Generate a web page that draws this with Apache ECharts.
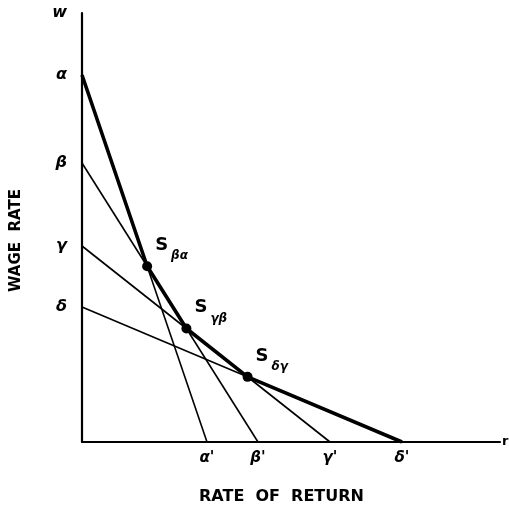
<!DOCTYPE html>
<html><head><meta charset="utf-8">
<script src="https://cdn.jsdelivr.net/npm/echarts@6/dist/echarts.min.js"></script>
<style>html,body{margin:0;padding:0;background:#fff}#c{width:509px;height:508px}</style>
</head><body><div id="c"></div>
<script>
// techniques and their intercepts (arbitrary units)
const techniques = ['α', 'β', 'γ', 'δ'];
const wageIntercepts = [367, 279, 196, 135];     // w at r = 0
const returnIntercepts = [125, 176, 248, 320];   // r at w = 0
const returnTickLabels = ["α'", "β'", "γ'", "δ'"];
const switchLabels = ['βα', 'γβ', 'δγ'];
const axisMax = { r: 418, w: 429 };

// switch points: intersection of consecutive technique lines
function intersect(i, j) {
  const a1 = wageIntercepts[i], b1 = returnIntercepts[i];
  const a2 = wageIntercepts[j], b2 = returnIntercepts[j];
  const s1 = a1 / b1, s2 = a2 / b2;
  const r = (a1 - a2) / (s1 - s2);
  return [r, a1 - s1 * r];
}
const switchPoints = [intersect(0, 1), intersect(1, 2), intersect(2, 3)];
const envelope = [[0, wageIntercepts[0]]].concat(switchPoints, [[returnIntercepts[3], 0]]);

const font = 'DejaVu Sans';
const black = { color: '#000', opacity: 1 };
const series = [];
techniques.forEach((t, i) => {
  series.push({
    type: 'line', data: [[0, wageIntercepts[i]], [returnIntercepts[i], 0]],
    symbol: 'none', lineStyle: { color: '#000', width: 1.6 }, z: 2, silent: true
  });
});
series.push({
  type: 'line', data: envelope, symbol: 'none',
  lineStyle: { color: '#000', width: 3.6, join: 'round' }, z: 3, silent: true
});
series.push({
  type: 'scatter', data: switchPoints.map((p, k) => ({ value: p, name: switchLabels[k] })),
  symbolSize: 10, itemStyle: black, z: 4,
  label: {
    show: true, position: [13, -25],
    formatter: p => '{s|S}{sub|' + p.name + '}',
    rich: {
      s: { fontFamily: font, fontSize: 18, fontWeight: 'bold', color: '#000', lineHeight: 26, verticalAlign: 'top' },
      sub: { fontFamily: font, fontSize: 12, fontWeight: 'bold', fontStyle: 'italic', color: '#000', lineHeight: 26, verticalAlign: 'bottom', padding: [11, 0, 0, 3] }
    }
  }
});
// wage-axis labels
series.push({
  type: 'scatter', symbolSize: 0, z: 5, itemStyle: black,
  data: techniques.map((t, i) => ({ value: [0, wageIntercepts[i]], name: t })).concat([{ value: [0, axisMax.w], name: 'w' }]),
  label: { show: true, position: 'left', distance: 15, formatter: p => p.name,
    fontFamily: font, fontSize: 16, fontWeight: 'bold', fontStyle: 'italic', color: '#000' }
});
// return-axis labels
series.push({
  type: 'scatter', symbolSize: 0, z: 5, itemStyle: black,
  data: returnTickLabels.map((t, i) => ({ value: [returnIntercepts[i], 0], name: t })),
  label: { show: true, position: 'bottom', distance: 9, formatter: p => p.name,
    fontFamily: font, fontSize: 15, fontWeight: 'bold', fontStyle: 'italic', color: '#000' }
});
series.push({
  type: 'scatter', symbolSize: 0, z: 5, itemStyle: black,
  data: [{ value: [axisMax.r, 0], name: 'r' }],
  label: { show: true, position: 'right', distance: 2, formatter: p => p.name,
    fontFamily: font, fontSize: 13, fontWeight: 'bold', color: '#000' }
});

const chart = echarts.init(document.getElementById('c'), null, { renderer: 'canvas' });
const axisLine = { show: true, lineStyle: { color: '#000', width: 2.2 } };
chart.setOption({
  animation: false,
  backgroundColor: '#fff',
  grid: { left: 82, top: 13, right: 9, bottom: 66, containLabel: false },
  xAxis: { type: 'value', min: 0, max: axisMax.r, axisLine: axisLine, axisTick: { show: false }, axisLabel: { show: false }, splitLine: { show: false } },
  yAxis: { type: 'value', min: 0, max: axisMax.w, axisLine: axisLine, axisTick: { show: false }, axisLabel: { show: false }, splitLine: { show: false } },
  graphic: [
    { type: 'text', left: 199, top: 489, style: { text: 'RATE  OF  RETURN', fontFamily: font, fontSize: 16, fontWeight: 'bold', fill: '#000' } },
    { type: 'text', x: 9, y: 292, rotation: Math.PI / 2, style: { text: 'WAGE  RATE', fontFamily: font, fontSize: 15, fontWeight: 'bold', fill: '#000' } }
  ],
  series: series
});
</script></body></html>
